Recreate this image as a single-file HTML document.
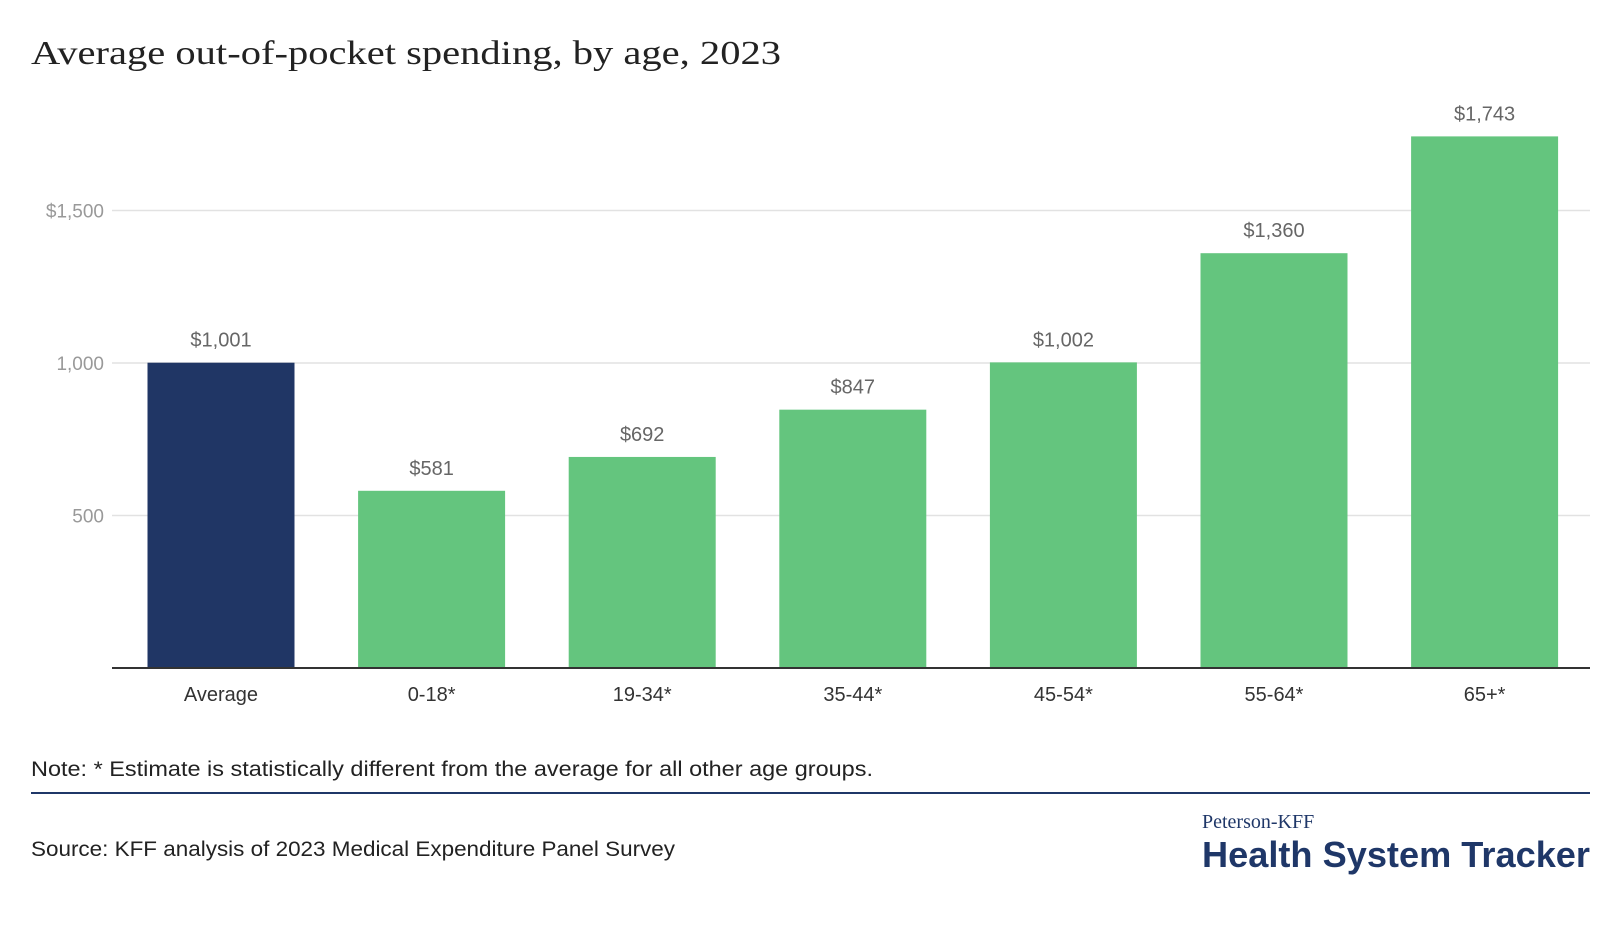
<!DOCTYPE html>
<html><head><meta charset="utf-8"><style>
body{margin:0;background:#fff;width:1620px;height:928px;overflow:hidden;font-family:"Liberation Sans",sans-serif}
</style></head><body>
<svg width="1620" height="928">
<text x="31" y="64" font-family="Liberation Serif,serif" font-size="34" fill="#222" textLength="750" lengthAdjust="spacingAndGlyphs">Average out-of-pocket spending, by age, 2023</text>
<g id="grid"></g><g id="bars"></g>
<line x1="112" x2="1590" y1="668" y2="668" stroke="#333" stroke-width="2"/>
<text x="31" y="776" font-size="21" fill="#222" textLength="842" lengthAdjust="spacingAndGlyphs">Note: * Estimate is statistically different from the average for all other age groups.</text>
<line x1="31" x2="1590" y1="793" y2="793" stroke="#1f3768" stroke-width="2"/>
<text x="31" y="856" font-size="21" fill="#222" textLength="644" lengthAdjust="spacingAndGlyphs">Source: KFF analysis of 2023 Medical Expenditure Panel Survey</text>
<text x="1202" y="828" font-family="Liberation Serif,serif" font-size="20" fill="#1f3768">Peterson-KFF</text>
<text x="1590" y="867" text-anchor="end" font-size="36" font-weight="bold" fill="#1f3768" textLength="388" lengthAdjust="spacingAndGlyphs">Health System Tracker</text>
</svg>
<script>
const categories=["Average","0-18*","19-34*","35-44*","45-54*","55-64*","65+*"];
const values=[1001,581,692,847,1002,1360,1743];
const labels=["$1,001","$581","$692","$847","$1,002","$1,360","$1,743"];
const ticks=[500,1000,1500];
const tickLabels=["500","1,000","$1,500"];
const NS="http://www.w3.org/2000/svg";
const y0=668,pxPer=152.5/500;
const y=v=>y0-v*pxPer;
const step=210.6,first=221,bw=147;
const x=i=>first+i*step;
function mk(t,a,p,txt){const e=document.createElementNS(NS,t);for(const k in a)e.setAttribute(k,a[k]);if(txt)e.textContent=txt;p.appendChild(e);return e;}
const g=document.getElementById('grid'),b=document.getElementById('bars');
ticks.forEach((t,i)=>{
 const l=mk('line',{x1:112,x2:1590,y1:y(t),y2:y(t),stroke:'#e2e2e2','stroke-width':1.5},g);
 
 
 const tx=mk('text',{x:104,y:y(t)+7,'text-anchor':'end','font-size':19,fill:'#999'},g,tickLabels[i]);
 
 
});
values.forEach((v,i)=>{
 const r=mk('rect',{x:x(i)-bw/2,y:y(v),width:bw,height:y0-y(v),fill:i==0?'#203665':'#64c57e'},b);
 
 
 const t=mk('text',{x:x(i),y:y(v)-16,'text-anchor':'middle','font-size':20,fill:'#666'},b,labels[i]);
 
 
 const c=mk('text',{x:x(i),y:701,'text-anchor':'middle','font-size':20,fill:'#333'},b,categories[i]);
 
 
});
</script>
</body></html>
